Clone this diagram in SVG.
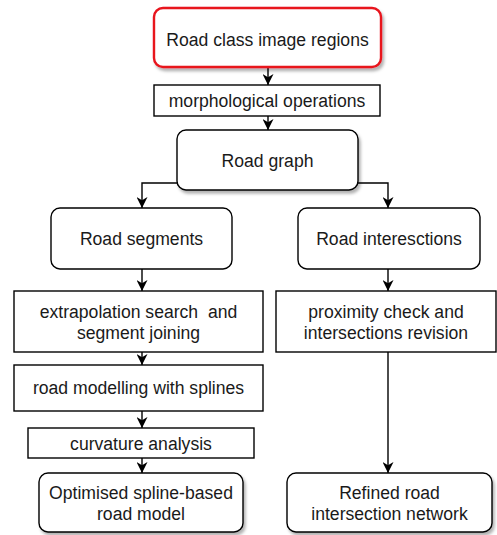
<svg xmlns="http://www.w3.org/2000/svg" width="497" height="535" viewBox="0 0 497 535">
<defs>
<style>
.n{fill:#fff;stroke:#000;stroke-width:1.4}
.red{fill:#fff;stroke:#e8121e;stroke-width:2.4}
.t{font-family:"Liberation Sans",Arial,sans-serif;font-size:17.6px;fill:#1a1a1a;text-anchor:middle;white-space:pre}
.c{fill:none;stroke:#000;stroke-width:1.4}
</style>
<filter id="sh" x="-10%" y="-10%" width="130%" height="140%">
<feDropShadow dx="2" dy="3" stdDeviation="1.5" flood-color="#000" flood-opacity="0.3"/>
</filter>
<marker id="ar" viewBox="0 0 10 10" refX="10" refY="5" markerWidth="11" markerHeight="11" markerUnits="userSpaceOnUse" orient="auto">
<path d="M0,0 L10,5 L0,10 L3,5 z" fill="#000"/>
</marker>
</defs>
<g id="connectors">
<line class="c" x1="268" y1="67" x2="268" y2="85" marker-end="url(#ar)"/>
<line class="c" x1="268" y1="116" x2="268" y2="130" marker-end="url(#ar)"/>
<polyline class="c" points="177,183 142,183 142,208" marker-end="url(#ar)"/>
<polyline class="c" points="358,183 388,183 388,208" marker-end="url(#ar)"/>
<line class="c" x1="142" y1="269" x2="142" y2="291" marker-end="url(#ar)"/>
<line class="c" x1="388" y1="269" x2="388" y2="291" marker-end="url(#ar)"/>
<line class="c" x1="142" y1="352" x2="142" y2="365" marker-end="url(#ar)"/>
<line class="c" x1="142" y1="411" x2="142" y2="428" marker-end="url(#ar)"/>
<line class="c" x1="142" y1="458" x2="142" y2="473" marker-end="url(#ar)"/>
<line class="c" x1="388" y1="352" x2="388" y2="473" marker-end="url(#ar)"/>
</g>
<g id="n1"><rect class="red" x="154" y="8" width="227" height="59" rx="9" filter="url(#sh)"/><text class="t" x="267.5" y="46">Road class image regions</text></g>
<g id="n2"><rect class="n" x="154" y="85" width="226" height="31"/><text class="t" x="267" y="107">morphological operations</text></g>
<g id="n3"><rect class="n" x="177" y="130" width="181" height="60" rx="9" filter="url(#sh)"/><text class="t" x="267.5" y="167">Road graph</text></g>
<g id="n4"><rect class="n" x="51" y="208" width="181" height="61" rx="9"/><text class="t" x="141.5" y="245">Road segments</text></g>
<g id="n5"><rect class="n" x="298" y="208" width="182" height="61" rx="9"/><text class="t" x="389" y="245">Road interesctions</text></g>
<g id="n6"><rect class="n" x="14" y="291" width="249" height="61"/><text class="t" x="138.5" y="318" xml:space="preserve">extrapolation search  and</text><text class="t" x="138.5" y="339">segment joining</text></g>
<g id="n7"><rect class="n" x="276" y="291" width="220" height="61"/><text class="t" x="386" y="318">proximity check and</text><text class="t" x="386" y="339">intersections revision</text></g>
<g id="n8"><rect class="n" x="14" y="365" width="249" height="46"/><text class="t" x="138.5" y="394">road modelling with splines</text></g>
<g id="n9"><rect class="n" x="28" y="428" width="226" height="30"/><text class="t" x="141" y="450">curvature analysis</text></g>
<g id="n10"><rect class="n" x="39" y="473" width="204" height="59" rx="9" filter="url(#sh)"/><text class="t" x="141" y="499">Optimised spline-based</text><text class="t" x="141" y="520">road model</text></g>
<g id="n11"><rect class="n" x="287" y="473" width="205" height="59" rx="9" filter="url(#sh)"/><text class="t" x="389.5" y="499">Refined road</text><text class="t" x="389.5" y="520">intersection network</text></g>
</svg>
